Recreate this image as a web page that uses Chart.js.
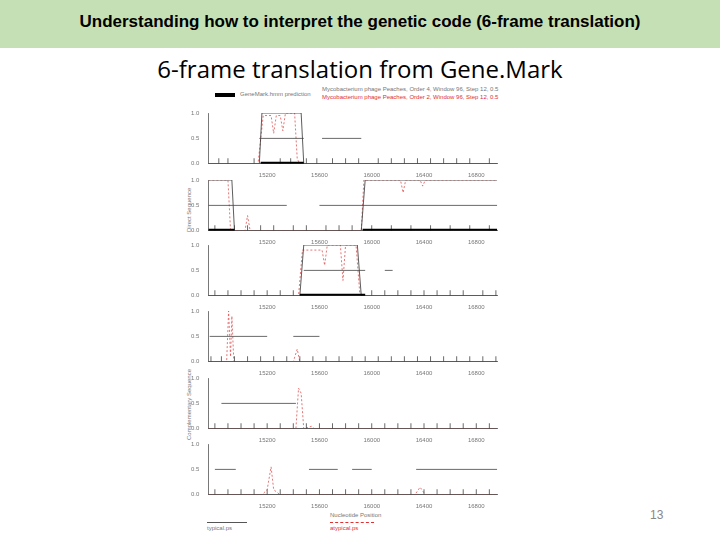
<!DOCTYPE html>
<html><head><meta charset="utf-8">
<script src="https://cdn.jsdelivr.net/npm/chart.js@4"></script>
<style>
body{margin:0;width:720px;height:540px;background:#fff;position:relative;overflow:hidden;font-family:"Liberation Sans",Arial,sans-serif}
#hdr{position:absolute;left:0;top:0;width:720px;height:48px;background:#c5e0b4;font-weight:bold;font-size:17px;text-align:center;line-height:44px}
#sub{position:absolute;left:0;width:720px;top:52px;text-align:center;font-family:"Open Sans",sans-serif;font-size:24px}
.c{position:absolute;left:190px;width:312px;height:72px}
.t{position:absolute;font-size:6px;color:#777;white-space:nowrap}
</style></head><body>
<div id="hdr">Understanding how to interpret the genetic code (6-frame translation)</div>
<div id="sub">6-frame translation from Gene.Mark</div>
<div style="position:absolute;left:215px;top:93px;width:20px;height:4px;background:#000"></div>
<div class="t" style="left:240px;top:91px">GeneMark.hmm prediction</div>
<div class="t" style="left:322px;top:86px">Mycobacterium phage Peaches, Order 4, Window 96, Step 12, 0.5</div>
<div class="t" style="left:322px;top:94px;color:#e03030">Mycobacterium phage Peaches, Order 2, Window 96, Step 12, 0.5</div>
<div class="t" style="left:186px;top:232px;transform:rotate(-90deg);transform-origin:left top">Direct Sequence</div>
<div class="t" style="left:186px;top:440px;transform:rotate(-90deg);transform-origin:left top">Complementary Sequence</div>
<div class="t" style="left:330px;top:512px">Nucleotide Position</div>
<div style="position:absolute;left:207px;top:522px;width:40px;border-top:1px solid #555"></div>
<div class="t" style="left:207px;top:525px">typical.ps</div>
<div style="position:absolute;left:330px;top:522px;width:44px;border-top:1px dashed #e03030"></div>
<div class="t" style="left:330px;top:525px;color:#e03030">atypical.ps</div>
<div style="position:absolute;left:650px;top:508px;font-size:12px;color:#888">13</div>
<script>
const xTicks = [15200, 15600, 16000, 16400, 16800];
const panelTops = [107, 174, 239, 305, 372, 438];

// coding probability, typical model (black), [position, prob]
const typical = [
  [[14750,0],[15140,0],[15160,1],[15460,1],[15480,0],[16960,0]],
  [[14750,1],[14930,1],[14950,0],[15920,0],[15950,1],[16960,1]],
  [[14750,0],[15450,0],[15480,1],[15890,1],[15920,0],[16960,0]],
  [[14750,0],[16960,0]],
  [[14750,0],[16960,0]],
  [[14750,0],[16960,0]]
];
// atypical model (red dashed)
const atypical = [
  [[14750,0],[15130,0],[15170,0.95],[15230,0.95],[15250,0.6],[15270,0.95],[15300,0.95],[15320,0.65],[15340,1],[15410,1],[15430,0.1],[15450,0],[16960,0]],
  [[14750,1],[14900,1],[14920,0],[15030,0],[15050,0.3],[15070,0],[15920,0],[15940,1],[16220,1],[16240,0.75],[16260,1],[16370,1],[16390,0.88],[16410,1],[16960,1]],
  [[14750,0],[15440,0],[15470,0.9],[15620,0.9],[15640,0.6],[15660,1],[15760,1],[15780,0.3],[15800,1],[15880,1],[15910,0],[16960,0]],
  [[14750,0],[14890,0],[14905,1],[14920,0.1],[14930,0.9],[14945,0],[15400,0],[15430,0.25],[15450,0],[16960,0]],
  [[14750,0],[15420,0],[15440,0.8],[15460,0.7],[15480,0],[15540,0.05],[15560,0],[16960,0]],
  [[14750,0],[15160,0],[15200,0.1],[15230,0.55],[15250,0.1],[15300,0],[16330,0],[16370,0.15],[16410,0],[16960,0]]
];
// GeneMark.hmm predicted genes [start, end]
const genes = [
  [[15150,15480]],
  [[14750,14950],[15930,16960]],
  [[15450,15950]],
  [], [], []
];
// open reading frame segments drawn at 0.5
const orfs = [
  [[15140,15480],[15620,15920]],
  [[14750,15350],[15600,16960]],
  [[15480,15950],[16100,16160]],
  [[14760,15200],[15400,15600]],
  [[14850,15420]],
  [[14800,14960],[15520,15740],[15850,16000],[16340,16960]]
];
// stop codon marks along the bottom
const stops = [
  [14830,14900,15100,15300,15380,15500,15580,15700,15800,15900,16050,16150,16250,16350,16450,16550,16650,16750,16900],
  [14800,14950,15050,15150,15250,15400,15500,15650,15750,15850,16000,16150,16300,16450,16600,16750,16900],
  [14800,14900,15000,15100,15200,15300,15400,16000,16100,16200,16300,16400,16500,16600,16700,16850,16950],
  [14770,14850,14950,15050,15150,15250,15350,15450,15550,15650,15750,15850,15950,16050,16150,16250,16350,16450,16550,16650,16750,16850,16950],
  [14800,14900,15000,15100,15200,15300,15400,15500,15600,15700,15800,15900,16000,16100,16200,16300,16400,16500,16600,16700,16800,16900],
  [14800,14900,15000,15100,15200,15300,15400,15500,15600,15700,15800,15900,16000,16100,16200,16300,16400,16500,16600,16700,16800,16900]
];

const pts = a => a.map(p => ({x: p[0], y: p[1]}));
function segs(list, y) {
  const out = [];
  list.forEach(s => { out.push({x: s[0], y: y}, {x: s[1], y: y}, {x: s[1], y: null}); });
  return out;
}

panelTops.forEach((top, i) => {
  const cv = document.createElement("canvas");
  cv.className = "c";
  cv.width = 312;
  cv.height = 72;
  cv.style.top = top + "px";
  document.body.appendChild(cv);
  new Chart(cv, {
    type: "line",
    data: {
      datasets: [
        {data: segs(genes[i], 0), borderColor: "#000", borderWidth: 4, pointRadius: 0, spanGaps: false, borderCapStyle: "butt"},
        {data: segs(orfs[i], 0.5), borderColor: "#444", borderWidth: 0.8, pointRadius: 0, spanGaps: false},
        {type: "scatter", data: stops[i].map(x => ({x: x, y: 0.05})), pointStyle: "line", rotation: 90, radius: 3, borderColor: "#444", borderWidth: 0.8},
        {data: pts(typical[i]), borderColor: "#333", borderWidth: 0.8, pointRadius: 0},
        {data: pts(atypical[i]), borderColor: "#e05050", borderWidth: 0.8, borderDash: [2, 2], pointRadius: 0}
      ]
    },
    options: {
      responsive: false, animation: false, events: [],
      layout: {padding: {top: 6, right: 4}},
      plugins: {legend: {display: false}, tooltip: {enabled: false}},
      scales: {
        x: {type: "linear", min: 14750, max: 16960,
            afterBuildTicks: ax => { ax.ticks = xTicks.map(v => ({value: v})); },
            grid: {display: false}, border: {color: "#555", width: 0.8},
            ticks: {font: {size: 6}, color: "#777", padding: 0, maxRotation: 0, callback: v => String(v)}},
        y: {min: 0, max: 1,
            afterBuildTicks: ax => { ax.ticks = [0, 0.5, 1].map(v => ({value: v})); },
            grid: {display: false}, border: {color: "#555", width: 0.8},
            ticks: {font: {size: 6}, color: "#777", padding: 1, callback: v => v.toFixed(1)}}
      }
    }
  });
});
</script>
</body></html>
